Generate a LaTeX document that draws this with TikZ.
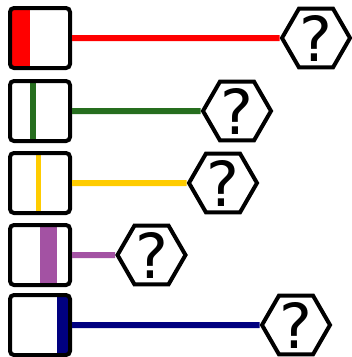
\documentclass[tikz,border=0pt]{standalone}
\usepackage{fontspec}
\newfontfamily\hexfont{DejaVu Sans}
\usetikzlibrary{shapes.geometric}
\definecolor{lineRed}{RGB}{255,0,0}
\definecolor{lineGreen}{RGB}{38,110,30}
\definecolor{lineYellow}{RGB}{255,204,0}
\definecolor{linePurple}{RGB}{163,82,163}
\definecolor{lineNavy}{RGB}{0,0,128}
\tikzset{
    keybox/.style={draw, rectangle, rounded corners=4pt, minimum size=60pt, inner sep=0pt, line width=4pt},
    unknown/.style={draw, regular polygon, regular polygon sides=6, minimum size=68pt, inner sep=-10pt, line width=4pt, font=\hexfont\fontsize{62}{62}\selectfont},
    link/.style={line width=6pt}
}

\begin{document}
\begin{tikzpicture}[x=1pt, y=-1pt]

        \useasboundingbox (0,0) rectangle (352,357);

        % -----------------------------------------------------------------
        % BARRE COLORATE NEI RIQUADRI
        % -----------------------------------------------------------------
        \fill[lineRed] (10,8) rectangle (30,68);
        \fill[lineGreen] (29.5,81) rectangle (35.5,141);
        \fill[lineYellow] (36,153) rectangle (41,213);
        \fill[linePurple] (40,225) rectangle (57,285);
        \fill[lineNavy] (57,295) rectangle (70,355);

        % -----------------------------------------------------------------
        % RIQUADRI
        % -----------------------------------------------------------------
        \node[keybox] (box1) at (40,38) {};
        \node[keybox] (box2) at (40,111) {};
        \node[keybox] (box3) at (40,183) {};
        \node[keybox] (box4) at (40,255) {};
        \node[keybox] (box5) at (40,325) {};

        % -----------------------------------------------------------------
        % ESAGONI
        % -----------------------------------------------------------------
        \node[unknown] (hex1) at (316,38) {?};
        \node[unknown] (hex2) at (237,111) {?};
        \node[unknown] (hex3) at (223,183) {?};
        \node[unknown] (hex4) at (151.5,255) {?};
        \node[unknown] (hex5) at (296,325) {?};

        % -----------------------------------------------------------------
        % COLLEGAMENTI
        % -----------------------------------------------------------------
        \draw[link, lineRed] (box1.east) -- (hex1.west);
        \draw[link, lineGreen] (box2.east) -- (hex2.west);
        \draw[link, lineYellow] (box3.east) -- (hex3.west);
        \draw[link, linePurple] (box4.east) -- (hex4.west);
        \draw[link, lineNavy] (box5.east) -- (hex5.west);

    \end{tikzpicture}
\end{document}
